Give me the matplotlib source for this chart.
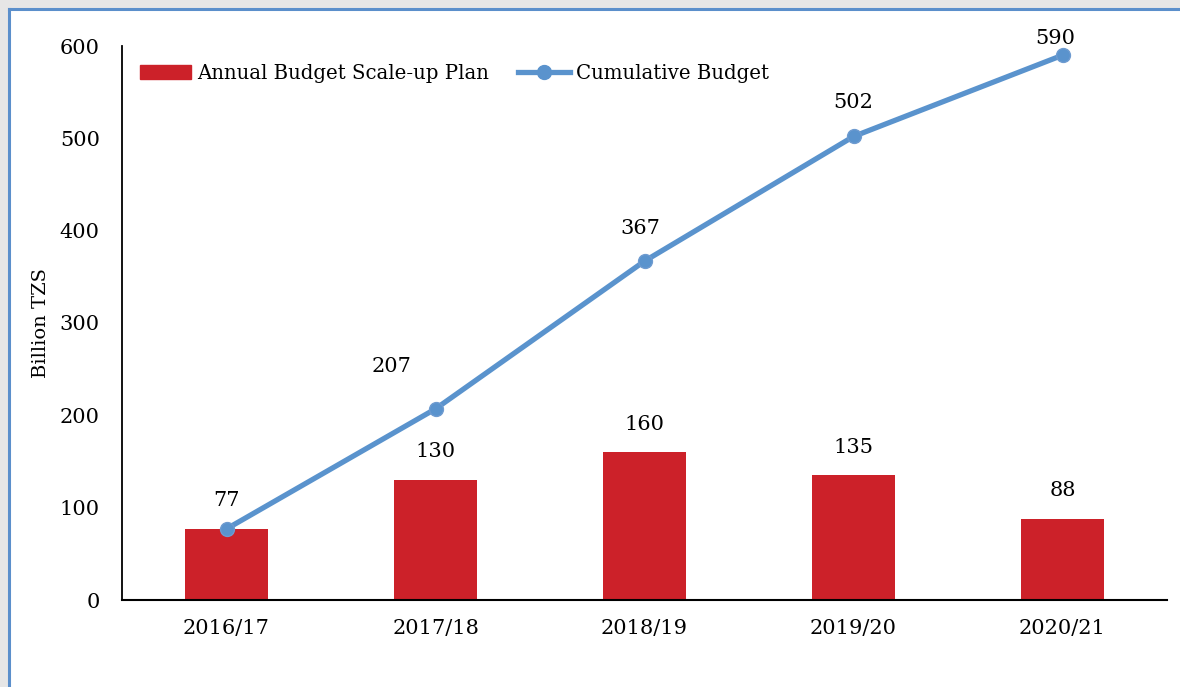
import matplotlib.pyplot as plt
import numpy as np
from matplotlib.lines import Line2D
from matplotlib.patches import Rectangle

years = ["2016/17", "2017/18", "2018/19", "2019/20", "2020/21"]
annual = [77, 130, 160, 135, 88]
cumulative = [77, 207, 367, 502, 590]

# label offsets in pixels for the cumulative labels (first coincides with bar label)
cum_offsets = [None, (-44, 42), (-4, 33), (0, 34), (-7, 17)]

BAR_COLOR = "#CC2129"
LINE_COLOR = "#5A93CD"

plt.rcParams["font.family"] = ["DejaVu Serif"]

W, H = 1180, 687
fig = plt.figure(figsize=(W / 100, H / 100), dpi=100)
# grey strip outside the frame, white panel, blue border on top and left only
fig.patches.append(Rectangle((0, 0), 1, 1, transform=fig.transFigure,
                             facecolor="#e6e6e6", edgecolor="none", zorder=-3))
fig.patches.append(Rectangle((9 / W, 0), 1, 1 - 9 / H, transform=fig.transFigure,
                             facecolor="white", edgecolor="none", zorder=-2))
fig.lines.append(Line2D([9 / W, 9 / W], [0, 1 - 9 / H], transform=fig.transFigure,
                        color="#5B8FCB", linewidth=2.2))
fig.lines.append(Line2D([9 / W, 1], [1 - 9 / H, 1 - 9 / H], transform=fig.transFigure,
                        color="#5B8FCB", linewidth=2.2))

ax = fig.add_axes([122 / W, 87 / H, 1045 / W, 554 / H])
ax.set_facecolor("none")
x = np.arange(len(years))

ax.bar(x, annual, width=0.4, color=BAR_COLOR, zorder=1)
ax.plot(x, cumulative, color=LINE_COLOR, linewidth=3.8, marker="o",
        markersize=10, markerfacecolor=LINE_COLOR, markeredgecolor="#6e9bd0", zorder=2)

for xi, v in zip(x, annual):
    ax.annotate(str(v), (xi, v), textcoords="offset pixels", xytext=(0, 28),
                ha="center", va="center", fontsize=15)
for xi, v, off in zip(x, cumulative, cum_offsets):
    if off is None:
        continue
    ax.annotate(str(v), (xi, v), textcoords="offset pixels", xytext=off,
                ha="center", va="center", fontsize=15)

ax.set_xlim(-0.5, 4.5)
ax.set_ylim(0, 600)
ax.set_yticks(range(0, 601, 100))
ax.set_xticks(x)
ax.set_xticklabels(years)
ax.tick_params(axis="both", length=0, labelsize=15)
ax.tick_params(axis="y", pad=16)
ax.tick_params(axis="x", pad=14)
for s in ["top", "right"]:
    ax.spines[s].set_visible(False)
ax.spines["left"].set_linewidth(1.3)
ax.spines["bottom"].set_linewidth(1.5)
ax.set_ylabel("Billion TZS", fontsize=14, labelpad=7)

handles = [Rectangle((0, 0), 1, 1, color=BAR_COLOR),
           Line2D([0], [0], color=LINE_COLOR, linewidth=3.8, marker="o", markersize=10)]
ax.legend(handles, ["Annual Budget Scale-up Plan", "Cumulative Budget"],
          loc="upper left", bbox_to_anchor=(0.0, 1.0), ncol=2, frameon=False,
          fontsize=14.2, handlelength=2.6, handletextpad=0.3, columnspacing=1.5)

fig.savefig("out.png", dpi=100)
